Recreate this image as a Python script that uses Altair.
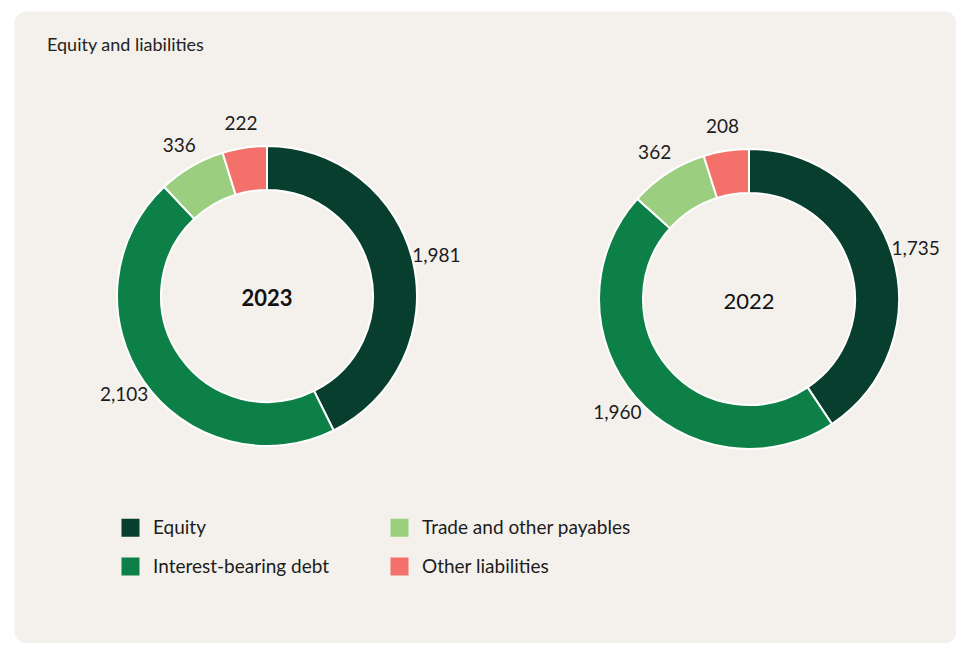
import altair as alt
import pandas as pd

# ---- data ----
categories = ["Equity", "Interest-bearing debt", "Trade and other payables", "Other liabilities"]
years = ["2023", "2022"]
values_2023 = [1981, 2103, 336, 222]
values_2022 = [1735, 1960, 362, 208]
color_map = {
    "Equity": "#083e2e",
    "Interest-bearing debt": "#0d8048",
    "Trade and other payables": "#9bce7e",
    "Other liabilities": "#f3716a",
}
title_text = ["Equity and liabilities"]

rows = []
for year, vals in zip(years, [values_2023, values_2022]):
    for i, (cat, v) in enumerate(zip(categories, vals)):
        rows.append({"year": year, "category": cat, "value": v, "idx": i, "label": f"{v:,}"})
df = pd.DataFrame(rows)

FONT = "Lato"
TXT = "#1c1c1c"

xscale = alt.Scale(type="point", domain=years, range=[253, 735], padding=0)
yscale = alt.Scale(type="point", domain=years, range=[285, 288], padding=0)
color_scale = alt.Scale(domain=categories, range=[color_map[c] for c in categories])

legend = alt.Legend(
    title=None, orient="none", legendX=107, legendY=507, columns=2,
    symbolType="square", symbolSize=324, symbolStrokeWidth=0,
    labelFont=FONT, labelFontSize=19, labelColor=TXT, labelOffset=13, labelLimit=400,
    rowPadding=19, columnPadding=60, padding=0,
)


def donut(year, bold):
    base = alt.Chart(df).transform_filter(alt.datum.year == year).encode(
        x=alt.X("year:N", scale=xscale, axis=None),
        y=alt.Y("year:N", scale=yscale, axis=None),
    )
    stacked = base.encode(
        theta=alt.Theta("value:Q", stack="normalize"),
        order=alt.Order("idx:Q"),
    )
    arcs = stacked.mark_arc(outerRadius=150, innerRadius=106, stroke="white", strokeWidth=2).encode(
        color=alt.Color("category:N", scale=color_scale, legend=legend)
    )
    labels = stacked.mark_text(radius=174, font=FONT, fontSize=19, color=TXT).encode(
        text="label:N", detail="category:N"
    )
    center = base.transform_filter(alt.datum.idx == 0).mark_text(
        font=FONT, fontSize=22, fontWeight="bold" if bold else "normal", color="#111", dy=3
    ).encode(text="year:N")
    return alt.layer(arcs, labels, center)


title_layer = alt.Chart(pd.DataFrame({"t": title_text})).mark_text(
    align="left", baseline="alphabetic", font=FONT, fontSize=18, color="#222"
).encode(x=alt.value(33), y=alt.value(40), text="t:N")

chart = alt.layer(title_layer, donut("2023", True), donut("2022", False)).properties(
    width=942, height=632,
    padding={"left": 6, "top": 3, "right": 0, "bottom": 0},
    background="white",
).configure_view(fill="#f4f1ec", stroke="transparent", cornerRadius=12)

chart.save("out.html", embed_options={"renderer": "svg", "actions": False})
